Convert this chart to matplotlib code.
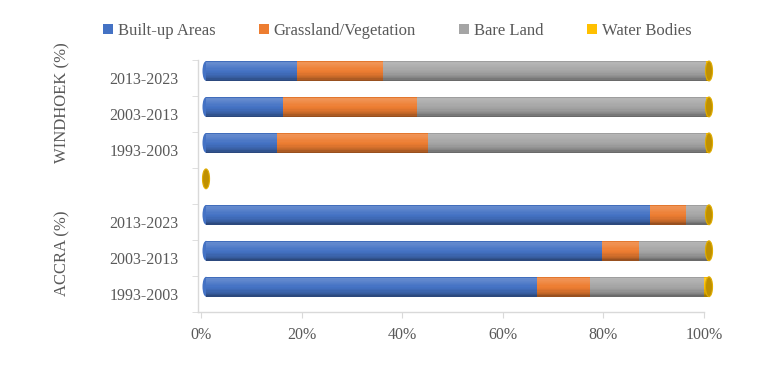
import numpy as np
import matplotlib
matplotlib.use('Agg')
import matplotlib.pyplot as plt
import matplotlib.transforms as mtransforms
from matplotlib.patches import Ellipse, Patch
from matplotlib.colors import to_rgb

plt.rcParams['font.family'] = ['Liberation Serif', 'DejaVu Serif']

# rows from bottom to top (middle row is an empty spacer)
periods = ['1993-2003', '2003-2013', '2013-2023', '', '1993-2003', '2003-2013', '2013-2023']
built = [65.8, 78.7, 88.2, 0, 14.2, 15.4, 18.1]
grass = [10.6, 7.3, 7.2, 0, 30.0, 26.6, 17.0]
bare = [22.6, 13.6, 4.3, 0, 55.3, 57.5, 64.4]
water = [1.0, 0.4, 0.3, 0, 0.5, 0.5, 0.5]

series = ['Built-up Areas', 'Grassland/Vegetation', 'Bare Land', 'Water Bodies']
colors = ['#4472C4', '#ED7D31', '#A5A5A5', '#FFC000']
txt = '#595959'
grid_c = '#D9D9D9'

fig = plt.figure(figsize=(7.67, 3.69), dpi=100)
ax = fig.add_axes([198 / 767, 1 - 311.7 / 369, 506 / 767, 251.7 / 369])

# 3d look: bars sit a little up and right of their slot
shift = mtransforms.ScaledTranslation(5 / 100, 7 / 100, fig.dpi_scale_trans)
tr = ax.transData + shift

ypos = np.arange(len(periods))
h = 0.55
n = 16
knots_t = [0, 0.08, 0.3, 0.6, 0.85, 1]
knots_f = [0.85, 1.12, 1.06, 0.97, 0.8, 0.6]


def shade(c, f):
    c = np.array(to_rgb(c))
    if f >= 1:
        return tuple(c + (1 - c) * (f - 1) * 1.5)
    return tuple(c * f)


data = np.array([built, grass, bare, water])
lefts = np.vstack([np.zeros(len(periods)), np.cumsum(data, axis=0)[:-1]])
totals = data.sum(axis=0)

# rounded back end of each cylinder
for y, tot in zip(ypos, totals):
    if tot > 0:
        ax.add_patch(Ellipse((0, y), 1.4, h, facecolor=colors[0],
                             edgecolor='none', transform=tr, zorder=1, clip_on=False))

for k in range(n):
    t = (k + 0.5) / n
    f = np.interp(t, knots_t, knots_f)
    off = h / 2 - (k + 0.5) * h / n
    for i in range(4):
        bars = ax.barh(ypos + off, data[i], left=lefts[i], height=h / n * 1.02,
                       color=shade(colors[i], f), linewidth=0, transform=tr, zorder=2)
        for b in bars:
            b.set_clip_on(False)

# end caps
for y, tot in zip(ypos, totals):
    ax.add_patch(Ellipse((tot, y), 1.4, h, facecolor='#BF9000', edgecolor='#E0AC00',
                         linewidth=0.8, transform=tr, zorder=3, clip_on=False))

ax.set_xlim(-0.6, 100)
ax.set_ylim(-0.5, 6.5)
ax.set_yticks(ypos)
ax.set_yticklabels(periods)
ax.set_yticks(np.arange(-0.5, 7, 1), minor=True)
ax.set_xticks(np.arange(0, 101, 20))
ax.set_xticklabels([f'{v}%' for v in range(0, 101, 20)])
ax.tick_params(axis='y', which='major', length=0, pad=14, labelsize=11.5, labelcolor=txt)
ax.tick_params(axis='y', which='minor', length=4, color=grid_c)
ax.tick_params(axis='x', length=4, color=grid_c, pad=7, labelsize=11.5, labelcolor=txt)
for s in ['top', 'right']:
    ax.spines[s].set_visible(False)
for s in ['left', 'bottom']:
    ax.spines[s].set_color(grid_c)
    ax.spines[s].set_linewidth(1)

fig.text(62 / 767, 1 - 103 / 369, 'WINDHOEK (%)', rotation=90, ha='center', va='center',
         fontsize=12, color=txt)
fig.text(62 / 767, 1 - 253 / 369, 'ACCRA (%)', rotation=90, ha='center', va='center',
         fontsize=12, color=txt)

handles = [Patch(facecolor=c, edgecolor='none') for c in colors]
fig.legend(handles, series, loc='center', bbox_to_anchor=(0.518, 1 - 31 / 369), ncol=4,
           frameon=False, fontsize=12, labelcolor=txt, handlelength=0.6, handleheight=0.6,
           handletextpad=0.3, columnspacing=2.6)

fig.savefig('out.png', dpi=100)
